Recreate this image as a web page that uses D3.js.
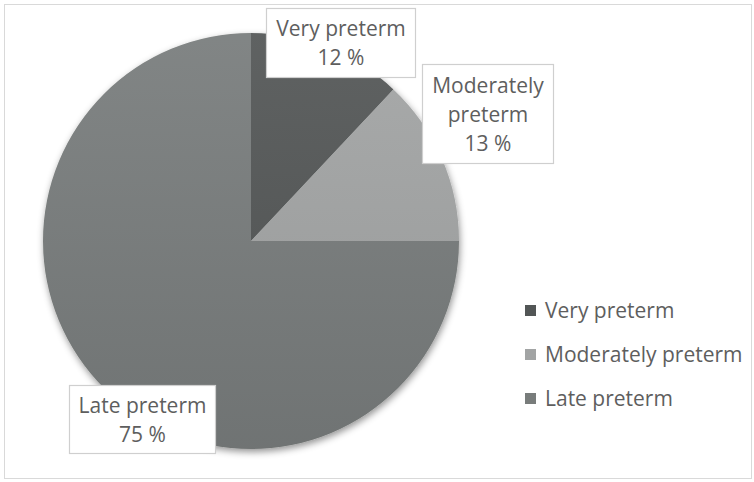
<!DOCTYPE html>
<html>
<head>
<meta charset="utf-8">
<script src="https://cdn.jsdelivr.net/npm/d3@7/dist/d3.min.js"></script>
<style>
  html, body { margin: 0; padding: 0; background: #fff; }
  svg { display: block; }
  text { font-family: "Open Sans", "Liberation Sans", sans-serif; fill: #5e5e5e; }
</style>
</head>
<body>
<svg id="chart" width="754" height="482"></svg>
<script>
// Share of preterm births by category (percent)
const categories = ["Very preterm", "Moderately preterm", "Late preterm"];
const values = [12, 13, 75];
const valueLabels = ["12 %", "13 %", "75 %"];
const colors = ["#525656", "#a2a4a4", "#787c7b"];

// Data-label boxes: the slice label is split over lines; box placement is layout only
const labelLines = [["Very preterm"], ["Moderately", "preterm"], ["Late preterm"]];
const labelBoxes = [
  { x: 266, y: 8, w: 149, h: 69, top: 36 },
  { x: 422, y: 64, w: 131, h: 99, top: 93 },
  { x: 69, y: 385, w: 146, h: 68, top: 413 }
];

const width = 754, height = 482;
const cx = 251, cy = 241, radius = 208;
const lineGap = 29;
const fontSize = 21;

const svg = d3.select("#chart");
const defs = svg.append("defs");

const shadow = defs.append("filter").attr("id", "pieShadow")
  .attr("x", "-20%").attr("y", "-20%").attr("width", "140%").attr("height", "140%");
shadow.append("feDropShadow")
  .attr("dx", 1).attr("dy", 3).attr("stdDeviation", 3.5)
  .attr("flood-color", "#000").attr("flood-opacity", 0.42);

// soft top-to-bottom shading across the pie
const shade = defs.append("linearGradient").attr("id", "shade")
  .attr("x1", 0).attr("y1", 0).attr("x2", 0).attr("y2", 1);
shade.append("stop").attr("offset", "0%").attr("stop-color", "#fff").attr("stop-opacity", 0.07);
shade.append("stop").attr("offset", "100%").attr("stop-color", "#000").attr("stop-opacity", 0.07);

// chart frame
svg.append("rect")
  .attr("x", 4.5).attr("y", 4.5).attr("width", 747).attr("height", 474)
  .attr("fill", "#fff").attr("stroke", "#d9d9d9").attr("stroke-width", 1);

const pie = d3.pie().sort(null).value(d => d);
const arcs = pie(values);
const arc = d3.arc().innerRadius(0).outerRadius(radius);

const g = svg.append("g").attr("transform", `translate(${cx},${cy})`);
const slices = g.append("g").attr("filter", "url(#pieShadow)");
slices.selectAll("path.slice")
  .data(arcs)
  .join("path")
  .attr("class", "slice")
  .attr("d", arc)
  .attr("fill", (d, i) => colors[i]);
g.append("circle").attr("r", radius).attr("fill", "url(#shade)");

// data labels
const labels = svg.append("g");
labelBoxes.forEach((b, i) => {
  const lg = labels.append("g");
  lg.append("rect")
    .attr("x", b.x + 0.5).attr("y", b.y + 0.5).attr("width", b.w).attr("height", b.h)
    .attr("fill", "#fff").attr("stroke", "#cfcfcf").attr("stroke-width", 1.2);
  const lines = labelLines[i].concat([valueLabels[i]]);
  lines.forEach((t, k) => {
    lg.append("text")
      .attr("x", b.x + b.w / 2 + 0.5)
      .attr("y", b.top + k * lineGap)
      .attr("text-anchor", "middle")
      .attr("font-size", fontSize)
      .text(t);
  });
});

// legend
const legend = svg.append("g").attr("transform", "translate(525,305)");
const rows = legend.selectAll("g")
  .data(categories)
  .join("g")
  .attr("transform", (d, i) => `translate(0,${i * 44})`);
rows.append("rect")
  .attr("width", 11).attr("height", 11)
  .attr("fill", (d, i) => colors[i]);
rows.append("text")
  .attr("x", 20).attr("y", 7)
  .attr("dominant-baseline", "middle")
  .attr("font-size", fontSize)
  .text(d => d);
</script>
</body>
</html>
